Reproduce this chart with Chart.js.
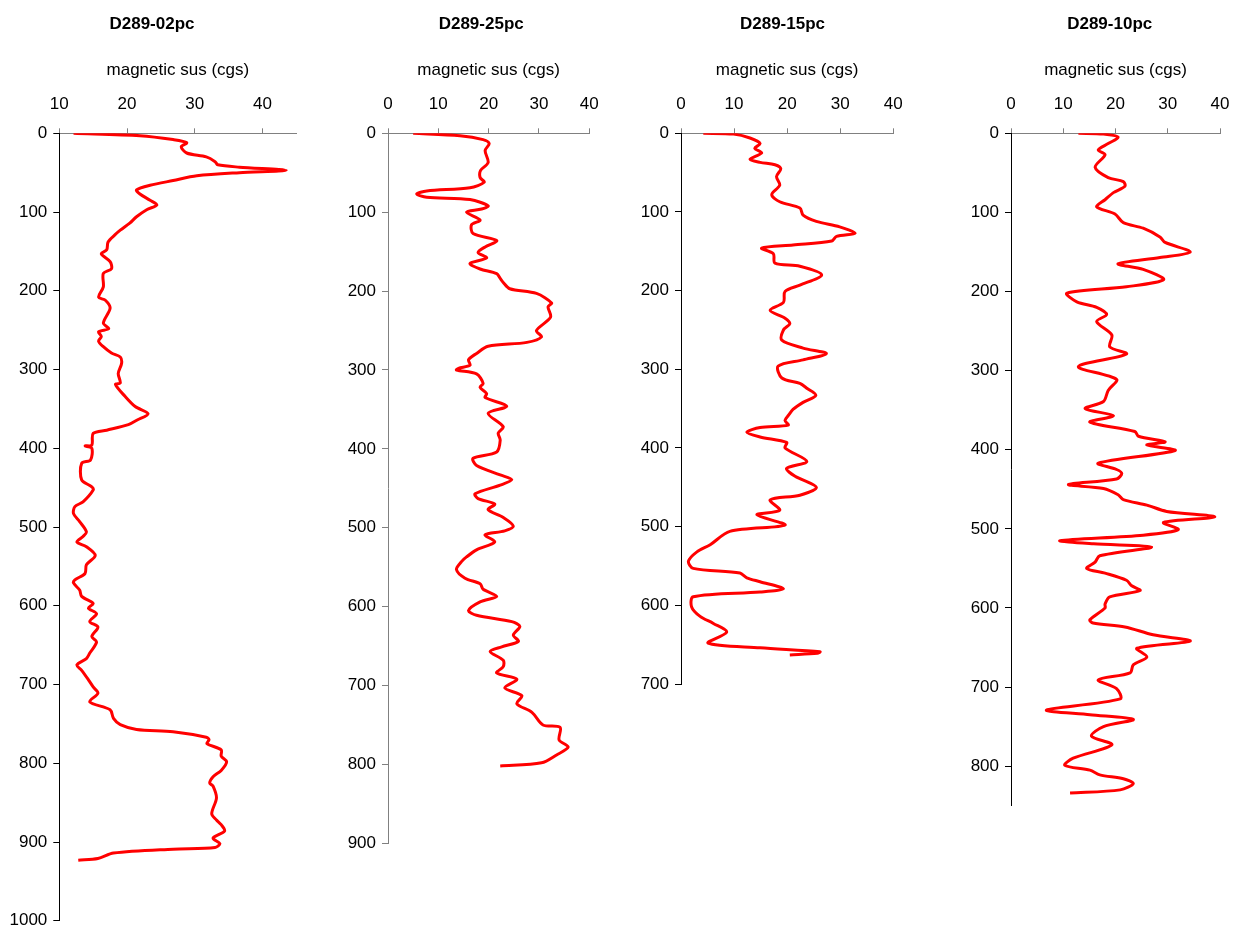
<!DOCTYPE html>
<html>
<head>
<meta charset="utf-8">
<title>Magnetic susceptibility profiles</title>
<script src="https://cdn.jsdelivr.net/npm/chart.js@4.4.1/dist/chart.umd.min.js"></script>
<style>
  html, body { margin: 0; padding: 0; background: #ffffff; }
  #wrap { position: relative; width: 1234px; height: 928px; overflow: hidden; background: #ffffff; }
  #wrap canvas { position: absolute; top: 0; }
</style>
</head>
<body>
<div id="wrap"></div>
<script>
// ---- Core D289-02pc : depth (cm) and magnetic susceptibility (cgs) ----
const depth02 = [0, 3, 8, 12, 17, 25, 30, 36, 40, 43,
  47, 50, 54, 60, 66, 72, 77, 85, 91, 97,
  106, 114, 123, 129, 138, 148, 153, 163, 172, 178,
  195, 208, 212, 222, 241, 248, 252, 258, 264, 271,
  279, 284, 292, 305, 317, 319, 334, 347, 356, 364,
  370, 377, 381, 396, 397, 400, 415, 419, 440, 449,
  453, 468, 474, 483, 493, 506, 512, 519, 525, 536,
  548, 559, 567, 571, 580, 588, 597, 603, 610, 620,
  627, 639, 646, 660, 667, 675, 682, 694, 703, 711,
  722, 732, 743, 751, 757, 760, 767, 770, 775, 783,
  791, 798, 809, 817, 825, 829, 844, 864, 872, 878,
  886, 895, 902, 907, 909, 914, 921, 923];
const sus02 = [12.1, 21.9, 26.8, 28.8, 28.0, 28.8, 31.7, 33.0, 33.4, 36.6,
  43.5, 36.6, 30.3, 26.8, 23.4, 21.4, 21.9, 23.4, 24.4, 22.9,
  21.4, 20.4, 19.0, 18.2, 17.2, 17.0, 16.2, 17.5, 17.7, 16.5,
  16.5, 15.8, 16.8, 17.5, 16.5, 17.3, 15.8, 16.2, 15.8, 16.5,
  17.7, 19.0, 19.2, 18.7, 19.0, 18.3, 19.7, 21.2, 23.1, 21.5,
  20.2, 17.0, 15.0, 14.8, 13.8, 14.8, 14.6, 13.3, 13.3, 14.8,
  15.0, 13.5, 12.3, 12.1, 13.0, 14.0, 13.5, 12.6, 14.0, 15.3,
  14.0, 13.8, 12.3, 12.1, 13.0, 13.3, 15.0, 14.3, 15.5, 14.5,
  15.7, 14.8, 15.5, 14.5, 14.0, 12.6, 13.3, 14.3, 15.0, 15.7,
  14.5, 17.5, 18.0, 19.0, 21.4, 26.8, 31.7, 32.1, 31.8, 33.9,
  33.9, 34.7, 33.9, 32.7, 32.2, 32.7, 33.2, 32.5, 33.2, 33.9,
  34.4, 32.7, 33.7, 33.0, 26.8, 18.0, 15.7, 12.8];

// ---- Core D289-25pc ----
const depth25 = [0, 3, 8, 13, 22, 37, 47, 56, 62, 69,
  73, 77, 81, 84, 92, 96, 100, 110, 116, 127,
  136, 144, 151, 158, 165, 172, 178, 184, 189, 197,
  203, 215, 220, 233, 250, 258, 265, 270, 279, 287,
  294, 298, 300, 305, 317, 322, 330, 335, 346, 355,
  372, 380, 389, 404, 412, 421, 433, 439, 446, 457,
  463, 470, 477, 487, 498, 504, 509, 518, 528, 537,
  543, 553, 564, 571, 578, 587, 594, 605, 611, 619,
  625, 636, 644, 651, 657, 668, 676, 684, 692, 703,
  713, 723, 734, 750, 753, 769, 778, 788, 798, 802];
const sus25 = [5.0, 14.3, 18.9, 20.1, 19.3, 19.9, 18.4, 18.3, 19.1, 16.3,
  7.7, 5.7, 7.7, 16.3, 19.9, 18.6, 15.6, 18.3, 16.6, 16.9,
  21.6, 19.3, 17.9, 19.6, 16.3, 18.3, 21.6, 22.3, 22.9, 24.2,
  29.5, 32.5, 31.8, 32.3, 29.5, 30.5, 27.6, 19.9, 17.6, 16.0,
  16.3, 14.0, 13.6, 17.6, 18.9, 18.3, 19.6, 19.3, 23.6, 19.9,
  22.9, 21.9, 22.3, 21.6, 16.9, 17.6, 22.3, 24.6, 22.3, 17.3,
  17.9, 21.2, 19.9, 22.9, 24.9, 23.2, 19.3, 21.2, 17.6, 15.6,
  14.6, 13.6, 15.3, 18.3, 18.9, 21.6, 18.3, 16.0, 17.6, 24.6,
  26.2, 24.9, 25.9, 22.6, 20.3, 22.9, 22.9, 21.6, 25.6, 23.2,
  26.6, 25.6, 28.6, 30.8, 34.2, 34.0, 35.8, 33.5, 30.5, 22.3];

// ---- Core D289-15pc ----
const depth15 = [0, 1, 6, 13, 19, 25, 33, 37, 40, 45,
  55, 66, 78, 87, 95, 104, 112, 119, 127, 131,
  137, 142, 146, 153, 165, 169, 180, 193, 201, 215,
  225, 235, 242, 250, 263, 273, 280, 288, 296, 311,
  318, 324, 333, 342, 351, 358, 365, 371, 374, 380,
  386, 393, 400, 417, 426, 436, 450, 460, 466, 479,
  485, 498, 506, 523, 532, 544, 553, 559, 565, 570,
  579, 583, 589, 602, 614, 623, 634, 648, 654, 659,
  661, 663];
const sus15 = [4.2, 9.9, 13.0, 14.9, 13.9, 15.2, 13.0, 14.9, 17.7, 18.8,
  18.0, 18.6, 17.1, 18.6, 22.4, 23.0, 25.5, 29.9, 32.8, 29.3,
  28.4, 21.1, 15.2, 17.4, 17.7, 22.4, 26.5, 22.4, 19.6, 19.3,
  16.8, 19.6, 20.5, 19.3, 19.0, 23.0, 27.4, 23.0, 18.3, 19.0,
  22.4, 23.7, 25.4, 23.0, 21.1, 20.3, 19.6, 20.2, 14.9, 12.4,
  14.9, 19.9, 19.6, 23.7, 19.9, 21.5, 25.5, 22.4, 16.8, 18.6,
  14.3, 19.6, 9.2, 5.5, 3.0, 1.4, 2.3, 11.1, 12.4, 14.9,
  19.3, 14.9, 2.3, 2.0, 3.6, 6.1, 8.6, 5.1, 14.9, 26.2,
  25.7, 20.5];

// ---- Core D289-10pc ----
const depth10 = [0, 1, 5, 13, 21, 27, 43, 56, 61, 67,
  75, 84, 93, 102, 113, 120, 131, 138, 150, 157,
  165, 172, 185, 194, 202, 213, 220, 229, 238, 255,
  270, 279, 295, 311, 325, 339, 348, 357, 365, 377,
  383, 390, 394, 401, 417, 425, 430, 437, 444, 449,
  457, 463, 470, 478, 485, 492, 501, 508, 515, 519,
  523, 534, 542, 550, 556, 565, 572, 578, 586, 595,
  600, 615, 619, 624, 634, 642, 651, 662, 672, 682,
  691, 702, 715, 729, 735, 741, 750, 762, 773, 790,
  799, 805, 811, 816, 822, 830, 834];
const sus10 = [12.9, 17.7, 20.5, 18.6, 16.7, 18.0, 16.1, 18.6, 21.5, 21.8,
  19.6, 18.0, 16.4, 19.9, 21.5, 25.3, 28.5, 29.5, 34.3, 28.5,
  20.5, 25.3, 29.2, 22.1, 10.7, 12.6, 16.4, 18.3, 16.4, 19.3,
  18.9, 22.1, 12.9, 20.2, 18.6, 17.7, 14.2, 19.6, 15.1, 23.7,
  24.4, 29.5, 26.0, 31.4, 16.7, 20.2, 21.2, 20.2, 11.0, 17.7,
  20.5, 21.5, 26.0, 29.8, 39.0, 29.2, 32.0, 25.3, 9.4, 15.8,
  26.9, 17.0, 16.1, 14.5, 18.0, 22.1, 23.1, 24.7, 18.9, 18.0,
  18.0, 15.1, 15.7, 21.8, 27.2, 34.3, 24.1, 26.0, 23.4, 22.8,
  16.7, 20.2, 20.9, 6.8, 15.1, 23.4, 17.7, 15.4, 19.3, 11.9,
  10.3, 15.1, 17.0, 21.5, 23.4, 20.9, 11.3];

// Core names and axis ranges
const coreNames = ['D289-02pc', 'D289-25pc', 'D289-15pc', 'D289-10pc'];
const depthSeries = [depth02, depth25, depth15, depth10];
const susSeries = [sus02, sus25, sus15, sus10];
const susMin = [10, 0, 0, 0];
const susMax = [45, 40, 40, 40];
const depthMax = [1000, 900, 700, 850];
const xAxisTitle = 'magnetic sus (cgs)';

// Page layout of each panel (canvas strip, plot box, title centre)
const panels = [
  { left: 0,   width: 315, plotLeft: 59.3, plotRight: 296.4, plotBottom: 920.8, titleX: 152,    yAxisColor: '#000000' },
  { left: 315, width: 300, plotLeft: 388,  plotRight: 589.3, plotBottom: 843.3, titleX: 481.2,  yAxisColor: '#808080' },
  { left: 615, width: 320, plotLeft: 681,  plotRight: 893.3, plotBottom: 684,   titleX: 782.5,  yAxisColor: '#000000' },
  { left: 935, width: 299, plotLeft: 1011, plotRight: 1220,  plotBottom: 805.7, titleX: 1109.7, yAxisColor: '#000000' }
];
const PAGE_H = 928;
const PLOT_TOP = 133.3;
const TITLE_Y = 24;
const FONT = "'Liberation Sans', Arial, Helvetica, sans-serif";

// Bold core name drawn above each panel at a set centre
const panelTitle = {
  id: 'panelTitle',
  afterDraw(chart, args, opts) {
    const ctx = chart.ctx;
    ctx.save();
    ctx.font = 'bold ' + opts.size + 'px ' + FONT;
    ctx.fillStyle = opts.color;
    ctx.textAlign = 'center';
    ctx.textBaseline = 'middle';
    ctx.fillText(opts.text, opts.x, opts.y);
    ctx.restore();
  }
};

const wrap = document.getElementById('wrap');

panels.forEach((p, i) => {
  const canvas = document.createElement('canvas');
  canvas.width = p.width;
  canvas.height = PAGE_H;
  canvas.style.left = p.left + 'px';
  canvas.style.width = p.width + 'px';
  canvas.style.height = PAGE_H + 'px';
  wrap.appendChild(canvas);

  const relPlotLeft = p.plotLeft - p.left;
  const relPlotRight = p.plotRight - p.left;
  const padRight = p.width - relPlotRight;
  const padBottom = PAGE_H - p.plotBottom;

  const points = depthSeries[i].map((d, k) => ({ x: susSeries[i][k], y: d }));

  new Chart(canvas, {
    type: 'scatter',
    plugins: [panelTitle],
    data: {
      datasets: [{
        data: points,
        showLine: true,
        borderColor: '#ff0000',
        borderWidth: 3,
        pointRadius: 0,
        pointHoverRadius: 0,
        tension: 0.3,
        fill: false
      }]
    },
    options: {
      responsive: false,
      animation: false,
      events: [],
      layout: { padding: { left: 0, right: padRight, top: 0, bottom: padBottom } },
      plugins: {
        legend: { display: false },
        tooltip: { enabled: false },
        title: { display: false },
        panelTitle: { text: coreNames[i], x: p.titleX - p.left, y: TITLE_Y, size: 17, color: '#000000' }
      },
      scales: {
        x: {
          type: 'linear',
          position: 'top',
          min: susMin[i],
          max: susMax[i],
          ticks: {
            stepSize: 10,
            color: '#000000',
            font: { family: FONT, size: 17 },
            padding: 14,
            maxRotation: 0,
            callback: v => String(v)
          },
          grid: { drawOnChartArea: false, tickLength: 5, tickColor: '#808080', tickWidth: 1 },
          border: { color: '#808080', width: 1 },
          title: {
            display: true,
            text: xAxisTitle,
            color: '#000000',
            font: { family: FONT, size: 17 },
            padding: { top: 60, bottom: 0 }
          },
          afterBuildTicks: s => { s.ticks = s.ticks.filter(t => t.value % 10 === 0); },
          afterFit: s => { s.height = PLOT_TOP; s.paddingLeft = 0; s.paddingRight = 0; }
        },
        y: {
          type: 'linear',
          reverse: true,
          min: 0,
          max: depthMax[i],
          ticks: {
            stepSize: 100,
            color: '#000000',
            font: { family: FONT, size: 17 },
            padding: 6,
            callback: v => String(v)
          },
          grid: { drawOnChartArea: false, tickLength: 6, tickColor: p.yAxisColor, tickWidth: 1 },
          border: { color: p.yAxisColor, width: 1 },
          afterBuildTicks: s => { s.ticks = s.ticks.filter(t => t.value % 100 === 0); },
          afterFit: s => { s.width = relPlotLeft; s.paddingTop = 0; s.paddingBottom = 0; }
        }
      }
    }
  });
});
</script>
</body>
</html>
